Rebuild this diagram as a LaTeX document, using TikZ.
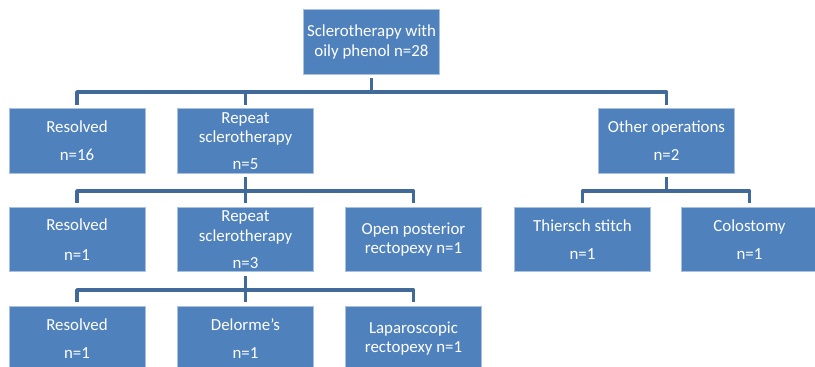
\documentclass[tikz,border=0pt]{standalone}
\usepackage{fontspec}
\setmainfont{Carlito}
\usepackage{xcolor}
\definecolor{boxblue}{HTML}{4F81BD}
\definecolor{boxedge}{HTML}{A9C1DF}
\definecolor{linkblue}{HTML}{41699A}
\usetikzlibrary{positioning}
\tikzset{
  every picture/.style={line join=round, >=latex},
  stage/.style={rectangle, fill=boxblue, draw=boxedge, line width=0.6pt,
    minimum width=3.4cm, minimum height=1.62cm, inner sep=0pt, outer sep=0.1cm,
    text=white, align=center, font=\fontsize{12}{14}\selectfont},
  link/.style={draw=linkblue, line width=2.5pt},
}

\begin{document}
\begin{tikzpicture}[x=0.025cm,y=-0.025cm]
\useasboundingbox (0,0) rectangle (815,367);
% top
\node[stage] (scler) at (371.5,42) {Sclerotherapy with\\oily phenol n=28};
% first level
\node[stage] (res1) at (77,141) {Resolved\\[6pt]n=16};
\node[stage] (rep1) at (245.5,141) {Repeat\\sclerotherapy\\[5pt]n=5};
\node[stage] (other) at (666.5,141) {Other operations\\[6pt]n=2};
% second level
\node[stage] (res2) at (77,239.5) {Resolved\\[7pt]n=1};
\node[stage] (rep2) at (245.5,239.5) {Repeat\\sclerotherapy\\[5pt]n=3};
\node[stage] (open) at (413.5,239.5) {Open posterior\\rectopexy n=1};
\node[stage] (thiersch) at (582.5,239.5) {Thiersch stitch\\[6pt]n=1};
\node[stage] (colost) at (749.5,239.5) {Colostomy\\[6pt]n=1};
% third level
\node[stage] (res3) at (77,338.5) {Resolved\\[6pt]n=1};
\node[stage] (delorme) at (245.5,338.5) {Delorme's\\[6pt]n=1};
\node[stage] (lap) at (413.5,338.5) {Laparoscopic\\rectopexy n=1};

\coordinate (j1) at (371.5,92);
\coordinate (j2) at (245.5,191);
\coordinate (j2r) at (666.5,191);
\coordinate (j3) at (245.5,290);

\draw[link] (scler.south) -- (scler.south |- j1);
\draw[link] (res1.north) |- (j1) -| (other.north);
\draw[link] (rep1.north) -- (rep1.north |- j1);

\draw[link] (rep1.south) -- (rep2.north);
\draw[link] (res2.north) |- (j2) -| (open.north);

\draw[link] (other.south) -- (other.south |- j2r);
\draw[link] (thiersch.north) |- (j2r) -| (colost.north);

\draw[link] (rep2.south) -- (delorme.north);
\draw[link] (res3.north) |- (j3) -| (lap.north);
\end{tikzpicture}
\end{document}
